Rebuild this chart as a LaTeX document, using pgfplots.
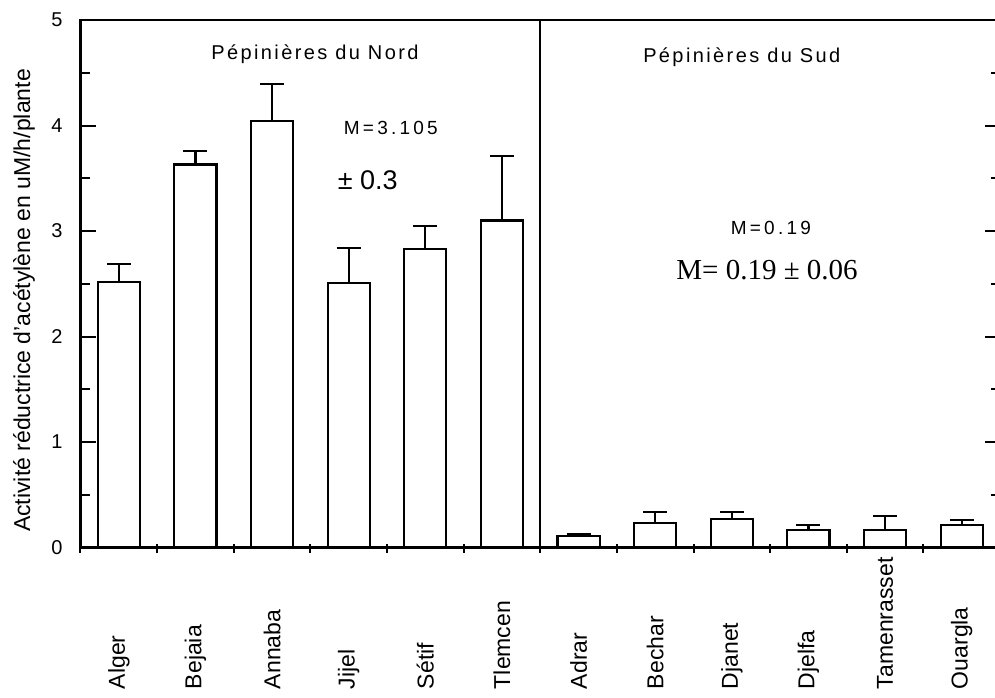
\documentclass[border=0pt]{standalone}
\usepackage{fontspec}
\setmainfont{Liberation Sans}
\newfontfamily\seriffont{Liberation Serif}
\newfontfamily\spacedsmall[LetterSpace=17]{Liberation Sans}
\newfontfamily\spacedtitle[LetterSpace=12]{Liberation Sans}
\usepackage{pgfplots}
\usepackage{pgfplotstable}
\pgfplotsset{compat=1.18}

% Acetylene reduction activity per nursery (mean, upper error)
\pgfplotstableread{
x val err
0  2.52  0.17
1  3.63  0.13
2  4.04  0.35
3  2.51  0.33
4  2.83  0.22
5  3.10  0.61
6  0.11  0.02
7  0.235 0.10
8  0.27  0.07
9  0.166 0.05
10 0.166 0.13
11 0.21  0.05
}\arv

\begin{document}
\begin{tikzpicture}
\begin{axis}[
  name=ax,
  scale only axis,
  width=459.75pt, height=263.75pt,
  xmin=-0.5, xmax=11.5, ymin=0, ymax=5,
  clip=false,
  axis line style={line width=1.1pt},
  every tick/.style={black, line width=1.0pt},
  tick align=inside,
  major tick length=7.5pt, minor tick length=4.5pt,
  ytick={0,1,2,3,4,5},
  minor y tick num=1,
  ytick pos=both,
  yticklabel pos=left,
  yticklabel shift=5.5pt,
  yticklabel style={font=\fontsize{10}{12}\selectfont},
  /pgf/number format/assume math mode=true,
  xtick={0,...,11},
  xticklabels={Alger,Bejaia,Annaba,Jijel,Sétif,Tlemcen,Adrar,Bechar,Djanet,Djelfa,Tamenrasset,Ouargla},
  xtick style={draw=none},
  minor xtick={-0.5,0.5,...,11.5},
  minor x tick style={draw=black, line width=1.0pt, yshift=-2.6pt},
  xtick pos=left,
  xticklabel shift=71pt,
  xticklabel style={rotate=90, anchor=west, inner sep=0pt,
                    font=\fontsize{11.5}{13}\selectfont},
]
\addplot[ybar, bar width=0.55, fill=white, draw=black, line width=1.1pt,
  error bars/.cd, y dir=plus, y explicit,
  error bar style={line width=1.1pt},
  error mark options={rotate=90, mark size=6pt, line width=1.1pt}]
  table[x=x, y=val, y error=err]{\arv};

% separation between northern and southern nurseries
\draw[line width=1.1pt] (axis cs:5.5,0) -- (axis cs:5.5,5);

\node[font=\spacedtitle\fontsize{10}{12}\selectfont] at (axis cs:2.56,4.675) {Pépinières du Nord};
\node[font=\spacedtitle\fontsize{10}{12}\selectfont] at (axis cs:8.13,4.65) {Pépinières du Sud};
\node[font=\spacedsmall\fontsize{9.5}{11}\selectfont] at (axis cs:3.55,3.976) {M=3.105};
\node[font=\fontsize{13.5}{15}\selectfont] at (axis cs:3.25,3.483) {± 0.3};
\node[font=\spacedsmall\fontsize{9.5}{11}\selectfont] at (axis cs:8.51,3.028) {M=0.19};
\node[font=\seriffont\fontsize{14.5}{16}\selectfont] at (axis cs:8.46,2.63) {M= 0.19 ± 0.06};

\node[rotate=90, font=\fontsize{11.5}{13}\selectfont] at (axis cs:-1.237,2.341)
  {Activité réductrice d'acétylène en uM/h/plante};
\end{axis}
\pgfresetboundingbox
\path (ax.south west) ++(-40.25pt,-74.75pt) rectangle ++(497.5pt,348.5pt);
\end{tikzpicture}
\end{document}
